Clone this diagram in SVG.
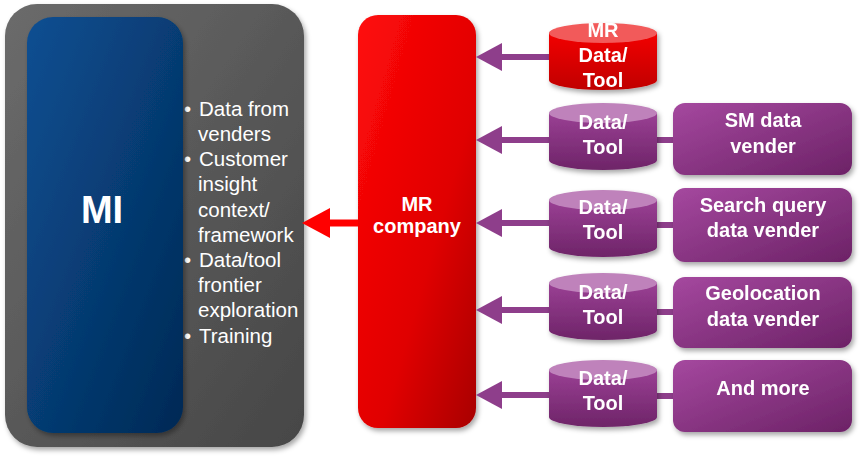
<svg xmlns="http://www.w3.org/2000/svg" width="865" height="457" viewBox="0 0 865 457">
<defs>
<linearGradient id="gGray" x1="0" y1="0" x2="1" y2="1"><stop offset="0" stop-color="#6b6b6b"/><stop offset="1" stop-color="#464646"/></linearGradient>
<linearGradient id="gBlue" x1="0" y1="0" x2="1" y2="1"><stop offset="0" stop-color="#0d4f92"/><stop offset="1" stop-color="#002955"/></linearGradient>
<linearGradient id="gRed" x1="0" y1="0" x2="1" y2="1"><stop offset="0" stop-color="#ff0a0a"/><stop offset="0.6" stop-color="#e00000"/><stop offset="1" stop-color="#a80000"/></linearGradient>
<linearGradient id="gPurple" x1="0" y1="0" x2="1" y2="1"><stop offset="0" stop-color="#a5489f"/><stop offset="1" stop-color="#6c2266"/></linearGradient>
<linearGradient id="gCylP" x1="0" y1="0" x2="0" y2="1"><stop offset="0" stop-color="#9a4094"/><stop offset="1" stop-color="#6e2468"/></linearGradient>
<linearGradient id="gCylR" x1="0" y1="0" x2="0" y2="1"><stop offset="0" stop-color="#f20000"/><stop offset="1" stop-color="#c00000"/></linearGradient>
<filter id="sh" x="-10%" y="-10%" width="125%" height="125%"><feDropShadow dx="2" dy="3" stdDeviation="2.5" flood-color="#000" flood-opacity="0.35"/></filter>
<marker id="ahP" viewBox="0 0 26 28" refX="0" refY="14" markerWidth="26" markerHeight="28" markerUnits="userSpaceOnUse" orient="auto"><path d="M0,0 L26,14 L0,28 Z" fill="#8e3e8b"/></marker>
<marker id="ahR" viewBox="0 0 28 30" refX="0" refY="15" markerWidth="28" markerHeight="30" markerUnits="userSpaceOnUse" orient="auto"><path d="M0,0 L28,15 L0,30 Z" fill="#ff0000"/></marker>
</defs>
<style>
text{font-family:"Liberation Sans",Arial,sans-serif;fill:#fff}
.b{font-weight:bold;text-anchor:middle}
.lbl{font-size:20px}
.bul{font-size:20.5px}
.cylP .body{fill:url(#gCylP)}
.cylP .top{fill:#bf82bb}
.cylR .body{fill:url(#gCylR)}
.cylR .top{fill:#f25a5a}
.vend rect{fill:url(#gPurple)}
.pl{stroke:#8e3e8b;stroke-width:6;fill:none}
</style>
<rect width="865" height="457" fill="#fff"/>

<g id="outer">
<rect x="5" y="4" width="299" height="443" rx="32" fill="url(#gGray)" filter="url(#sh)"/>
<text class="bul" x="184" y="116">•</text><text class="bul" x="199" y="116">Data from</text>
<text class="bul" x="198" y="141">venders</text>
<text class="bul" x="184" y="166">•</text><text class="bul" x="199" y="166">Customer</text>
<text class="bul" x="198" y="191">insight</text>
<text class="bul" x="198" y="217">context/</text>
<text class="bul" x="198" y="242">framework</text>
<text class="bul" x="184" y="267">•</text><text class="bul" x="199" y="267">Data/tool</text>
<text class="bul" x="198" y="292">frontier</text>
<text class="bul" x="198" y="317">exploration</text>
<text class="bul" x="184" y="343">•</text><text class="bul" x="199" y="343">Training</text>
</g>

<g id="mi">
<rect x="27" y="17" width="156" height="416" rx="26" fill="url(#gBlue)" filter="url(#sh)"/>
<text class="b" x="102" y="223" font-size="38">MI</text>
</g>

<g id="mr">
<rect x="358" y="15" width="118" height="413" rx="20" fill="url(#gRed)" filter="url(#sh)"/>
<text class="b lbl" x="417" y="211">MR</text>
<text class="b lbl" x="417" y="233">company</text>
</g>

<g id="connectors">
<line x1="358" y1="223" x2="330" y2="223" stroke="#ff0000" stroke-width="7" marker-end="url(#ahR)"/>
<line class="pl" x1="551" y1="57" x2="502" y2="57" marker-end="url(#ahP)"/>
<line class="pl" x1="551" y1="140" x2="502" y2="140" marker-end="url(#ahP)"/>
<line class="pl" x1="551" y1="223" x2="502" y2="223" marker-end="url(#ahP)"/>
<line class="pl" x1="551" y1="310" x2="502" y2="310" marker-end="url(#ahP)"/>
<line class="pl" x1="551" y1="395" x2="502" y2="395" marker-end="url(#ahP)"/>
<line class="pl" x1="655" y1="140" x2="675" y2="140"/>
<line class="pl" x1="655" y1="225" x2="675" y2="225"/>
<line class="pl" x1="655" y1="312" x2="675" y2="312"/>
<line class="pl" x1="655" y1="396" x2="675" y2="396"/>
</g>

<g id="cyl-mr" class="cylR" filter="url(#sh)">
<path class="body" d="M549,33 L549,80 A54,10 0 0 0 657,80 L657,33 Z"/>
<ellipse class="top" cx="603" cy="33" rx="54" ry="10"/>
<text class="b lbl" x="603" y="37">MR</text>
<text class="b lbl" x="603" y="62">Data/</text>
<text class="b lbl" x="603" y="87">Tool</text>
</g>

<g id="cyl-1" class="cylP" filter="url(#sh)">
<path class="body" d="M549,113 L549,160 A54,10 0 0 0 657,160 L657,113 Z"/>
<ellipse class="top" cx="603" cy="113" rx="54" ry="10"/>
<text class="b lbl" x="603" y="129">Data/</text>
<text class="b lbl" x="603" y="154">Tool</text>
</g>

<g id="cyl-2" class="cylP" filter="url(#sh)">
<path class="body" d="M549,200 L549,247 A54,10 0 0 0 657,247 L657,200 Z"/>
<ellipse class="top" cx="603" cy="200" rx="54" ry="10"/>
<text class="b lbl" x="603" y="214">Data/</text>
<text class="b lbl" x="603" y="239">Tool</text>
</g>

<g id="cyl-3" class="cylP" filter="url(#sh)">
<path class="body" d="M549,283 L549,330 A54,10 0 0 0 657,330 L657,283 Z"/>
<ellipse class="top" cx="603" cy="283" rx="54" ry="10"/>
<text class="b lbl" x="603" y="299">Data/</text>
<text class="b lbl" x="603" y="324">Tool</text>
</g>

<g id="cyl-4" class="cylP" filter="url(#sh)">
<path class="body" d="M549,370 L549,417 A54,10 0 0 0 657,417 L657,370 Z"/>
<ellipse class="top" cx="603" cy="370" rx="54" ry="10"/>
<text class="b lbl" x="603" y="385">Data/</text>
<text class="b lbl" x="603" y="410">Tool</text>
</g>

<g id="v-sm" class="vend" filter="url(#sh)">
<rect x="673" y="103" width="179" height="72" rx="12"/>
<text class="b lbl" x="763" y="127">SM data</text>
<text class="b lbl" x="763" y="153">vender</text>
</g>

<g id="v-search" class="vend" filter="url(#sh)">
<rect x="673" y="188" width="179" height="74" rx="12"/>
<text class="b lbl" x="763" y="212">Search query</text>
<text class="b lbl" x="763" y="237">data vender</text>
</g>

<g id="v-geo" class="vend" filter="url(#sh)">
<rect x="673" y="277" width="179" height="71" rx="12"/>
<text class="b lbl" x="763" y="300">Geolocation</text>
<text class="b lbl" x="763" y="326">data vender</text>
</g>

<g id="v-more" class="vend" filter="url(#sh)">
<rect x="673" y="360" width="179" height="72" rx="12"/>
<text class="b lbl" x="763" y="395">And more</text>
</g>
</svg>
